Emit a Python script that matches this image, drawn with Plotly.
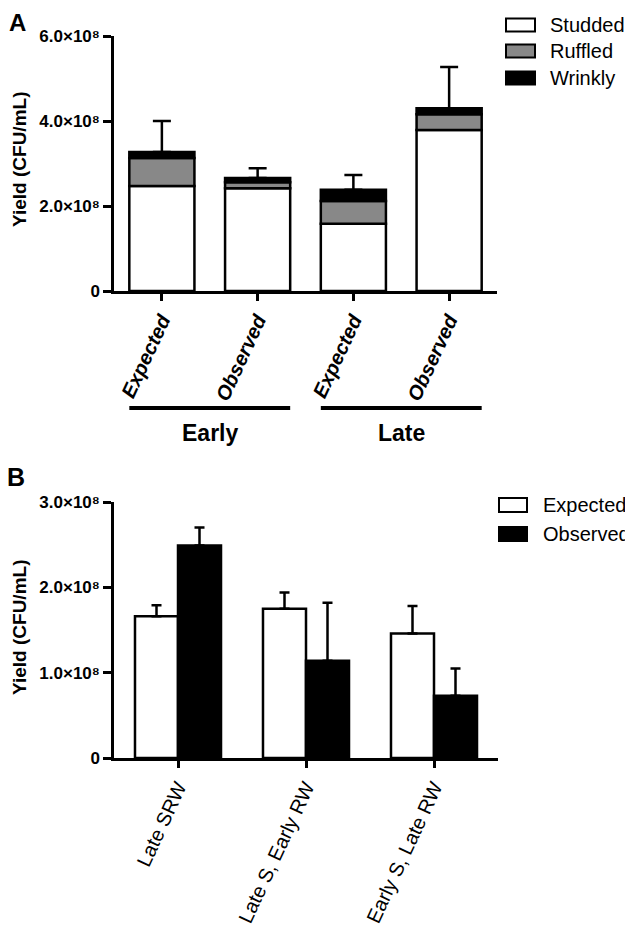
import plotly.graph_objects as go

# ---------------- data ----------------
# Panel A (stacked morphotype yields)
a_categories = ["Expected", "Observed", "Expected", "Observed"]
a_groups = ["Early", "Late"]
a_series = ["Studded", "Ruffled", "Wrinkly"]
a_studded = [2.47e8, 2.42e8, 1.58e8, 3.79e8]
a_ruffled = [0.66e8, 0.14e8, 0.54e8, 0.37e8]
a_wrinkly = [0.14e8, 0.10e8, 0.26e8, 0.14e8]
a_error = [0.73e8, 0.23e8, 0.35e8, 0.97e8]
a_yticks = [0, 2e8, 4e8, 6e8]
a_yticktext = ["0", "2.0×10⁸", "4.0×10⁸", "6.0×10⁸"]

# Panel B (expected vs observed)
b_categories = ["Late SRW", "Late S, Early RW", "Early S, Late RW"]
b_series = ["Expected", "Observed"]
b_expected = [1.66e8, 1.75e8, 1.46e8]
b_expected_err = [0.13e8, 0.19e8, 0.32e8]
b_observed = [2.49e8, 1.14e8, 0.73e8]
b_observed_err = [0.21e8, 0.68e8, 0.32e8]
b_yticks = [0, 1e8, 2e8, 3e8]
b_yticktext = ["0", "1.0×10⁸", "2.0×10⁸", "3.0×10⁸"]

# ---------------- styling ----------------
OFF = 8                     # default page body margin
W, H = 633 - OFF, 936 - OFF
FONT = "Liberation Sans, Arial, Helvetica, sans-serif"
a_colors = ["white", "#888888", "black"]
b_colors = ["white", "black"]
LW = 2.5


def px_x(p):
    return (p - OFF) / W


def px_y(p):
    return 1 - (p - OFF) / H


a_x = list(range(len(a_categories)))
bw_a = 0.68
bw_b = 0.336

fig = go.Figure()

# Panel A stacked bars
ruffled_base = a_studded
wrinkly_base = [s + r for s, r in zip(a_studded, a_ruffled)]
a_vals = [a_studded, a_ruffled, a_wrinkly]
a_bases = [[0] * len(a_studded), ruffled_base, wrinkly_base]
for i, name in enumerate(a_series):
    kw = {}
    if i == len(a_series) - 1:
        kw["error_y"] = dict(type="data", symmetric=False, array=a_error,
                             arrayminus=[0] * len(a_error), color="black",
                             thickness=LW, width=9)
    fig.add_trace(go.Bar(
        x=a_x, y=a_vals[i], base=a_bases[i], name=name,
        width=bw_a, offset=-bw_a / 2,
        marker=dict(color=a_colors[i], line=dict(color="black", width=LW)),
        xaxis="x", yaxis="y", showlegend=False, **kw))

# Panel B grouped bars
b_vals = [b_expected, b_observed]
b_errs = [b_expected_err, b_observed_err]
for i, name in enumerate(b_series):
    fig.add_trace(go.Bar(
        x=b_categories, y=b_vals[i], name=name,
        width=bw_b, offset=-bw_b + i * bw_b,
        marker=dict(color=b_colors[i], line=dict(color="black", width=LW)),
        error_y=dict(type="data", symmetric=False, array=b_errs[i],
                     arrayminus=[0] * len(b_errs[i]), color="black",
                     thickness=LW, width=5),
        xaxis="x2", yaxis="y2", showlegend=False))

axis_common = dict(showline=True, linecolor="black", linewidth=LW,
                   ticks="outside", tickcolor="black", tickwidth=LW,
                   showgrid=False, zeroline=False, fixedrange=True,
                   automargin=False)

fig.update_layout(
    template="none",
    width=W, height=H,
    margin=dict(l=0, r=0, t=0, b=0, pad=0, autoexpand=False),
    paper_bgcolor="white", plot_bgcolor="white",
    barmode="overlay",
    showlegend=False,
    font=dict(family=FONT, color="black", size=16),
    xaxis=dict(domain=[px_x(114), px_x(497)], range=[-0.5, 3.5], anchor="y",
               tickvals=a_x, ticktext=a_categories, tickangle=-65, ticklen=7,
               tickfont=dict(family=FONT, size=20, weight="bold", style="italic"),
               **axis_common),
    yaxis=dict(domain=[px_y(291), px_y(36)], range=[0, 6e8], anchor="x",
               tickvals=a_yticks, ticktext=a_yticktext, ticklen=8,
               tickfont=dict(family=FONT, size=17, weight="bold"), **axis_common),
    xaxis2=dict(domain=[px_x(114), px_x(498)], range=[-0.5, 2.5], anchor="y2",
                type="category", tickangle=-65, ticklen=7,
                tickfont=dict(family=FONT, size=20), **axis_common),
    yaxis2=dict(domain=[px_y(758), px_y(502)], range=[0, 3e8], anchor="x2",
                tickvals=b_yticks, ticktext=b_yticktext, ticklen=8,
                tickfont=dict(family=FONT, size=17, weight="bold"), **axis_common),
)

shapes = []
annotations = []

# Group bars and labels under panel A
for g, name in enumerate(a_groups):
    left = 2 * g - bw_a / 2
    right = 2 * g + 1 + bw_a / 2
    shapes.append(dict(type="line", xref="x", yref="paper",
                       x0=left, x1=right, y0=px_y(408), y1=px_y(408),
                       line=dict(color="black", width=4)))
    annotations.append(dict(text=name, xref="x", yref="paper",
                            x=2 * g + 0.5, y=px_y(433), showarrow=False,
                            xanchor="center", yanchor="middle",
                            font=dict(family=FONT, size=23, weight="bold")))

# Legends (manual swatches)
for i, name in enumerate(a_series):
    cy = [25, 51, 78][i]
    shapes.append(dict(type="rect", xref="paper", yref="paper",
                       x0=px_x(506), x1=px_x(535), y0=px_y(cy + 6.5), y1=px_y(cy - 6.5),
                       fillcolor=a_colors[i], line=dict(color="black", width=2)))
    annotations.append(dict(text=name, xref="paper", yref="paper",
                            x=px_x(548), y=px_y(cy), showarrow=False,
                            xanchor="left", yanchor="middle",
                            font=dict(family=FONT, size=20)))
for i, name in enumerate(b_series):
    cy = [505, 534][i]
    shapes.append(dict(type="rect", xref="paper", yref="paper",
                       x0=px_x(499), x1=px_x(527), y0=px_y(cy + 7), y1=px_y(cy - 7),
                       fillcolor=b_colors[i], line=dict(color="black", width=2)))
    annotations.append(dict(text=name, xref="paper", yref="paper",
                            x=px_x(541), y=px_y(cy), showarrow=False,
                            xanchor="left", yanchor="middle",
                            font=dict(family=FONT, size=20)))

# Y-axis titles
annotations.append(dict(text="Yield (CFU/mL)", xref="paper", yref="paper",
                        x=px_x(20), y=px_y(160), textangle=-90, showarrow=False,
                        xanchor="center", yanchor="middle",
                        font=dict(family=FONT, size=19, weight="bold")))
annotations.append(dict(text="Yield (CFU/mL)", xref="paper", yref="paper",
                        x=px_x(19), y=px_y(628), textangle=-90, showarrow=False,
                        xanchor="center", yanchor="middle",
                        font=dict(family=FONT, size=19, weight="bold")))

# Panel letters
annotations.append(dict(text="A", xref="paper", yref="paper",
                        x=px_x(17), y=1.0, showarrow=False,
                        xanchor="center", yanchor="top", borderpad=0,
                        font=dict(family=FONT, size=24, weight="bold")))
annotations.append(dict(text="B", xref="paper", yref="paper",
                        x=px_x(16), y=px_y(477), showarrow=False,
                        xanchor="center", yanchor="middle",
                        font=dict(family=FONT, size=25, weight="bold")))

fig.update_layout(shapes=shapes, annotations=annotations)
fig.write_html("out.html")
